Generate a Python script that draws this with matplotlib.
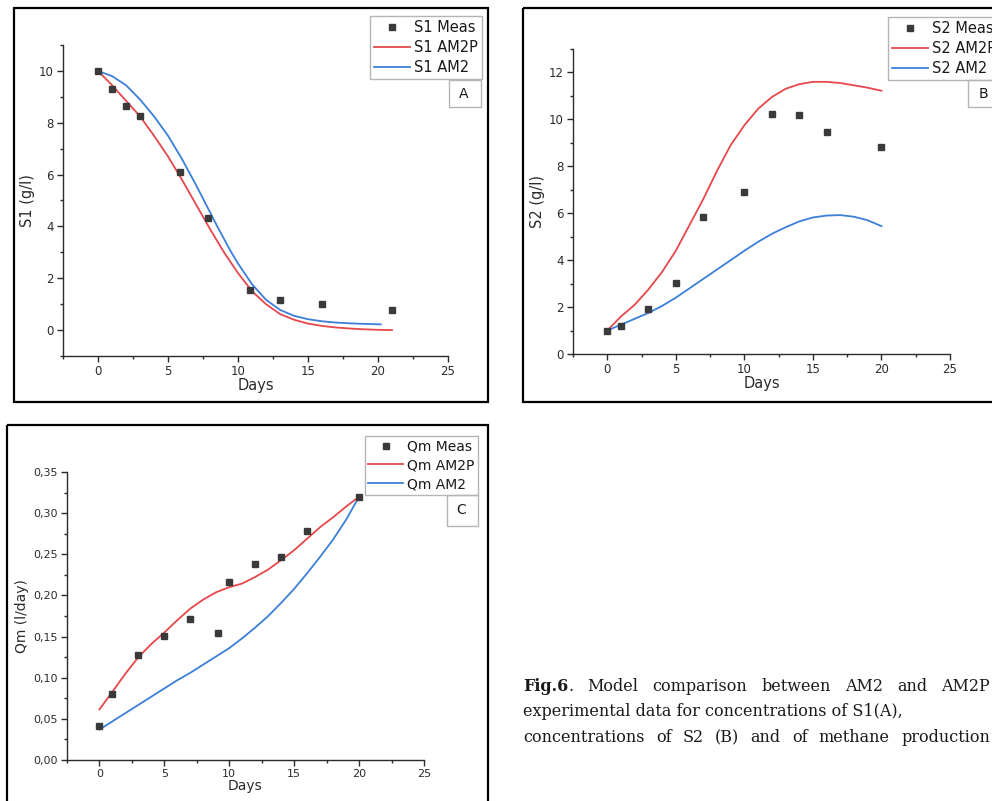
import matplotlib
matplotlib.use("Agg")
import matplotlib.pyplot as plt
from matplotlib.patches import Rectangle
from matplotlib.ticker import MultipleLocator, FuncFormatter

W, H = 992, 801

# Panel A - S1
s1_days = [0, 1, 2, 3, 5.85, 7.85, 10.85, 13, 16, 21]
s1_meas = [10.0, 9.3, 8.65, 8.25, 6.1, 4.33, 1.53, 1.18, 1.0, 0.77]
s1_am2p_days = [0, 1, 2, 3, 4, 5, 6, 7, 8, 9, 10, 11, 12, 13, 14, 15, 16, 17, 18, 19, 20, 21]
s1_am2p = [10.0, 9.45, 8.85, 8.25, 7.5, 6.7, 5.8, 4.85, 3.9, 3.0, 2.2, 1.5, 1.0, 0.62,
           0.4, 0.25, 0.16, 0.1, 0.06, 0.03, 0.01, 0.0]
s1_am2_days = [0, 1, 2, 3, 4, 5, 6, 7, 8, 8.5, 9, 9.5, 10, 11, 12, 13, 14, 15, 16, 17, 18, 19, 20.2]
s1_am2 = [10.0, 9.8, 9.45, 8.9, 8.25, 7.5, 6.6, 5.6, 4.55, 4.02, 3.52, 3.02, 2.57, 1.77,
          1.17, 0.78, 0.55, 0.42, 0.34, 0.29, 0.26, 0.24, 0.22]

# Panel B - S2
s2_days = [0, 1, 3, 5, 7, 10, 12, 14, 16, 20]
s2_meas = [1.0, 1.18, 1.9, 3.03, 5.83, 6.92, 10.22, 10.18, 9.48, 8.84]
s2_fit_days = [0, 1, 2, 3, 4, 5, 6, 7, 8, 9, 10, 11, 12, 13, 14, 15, 16, 17, 18, 19, 20]
s2_am2p = [1.0, 1.6, 2.1, 2.75, 3.5, 4.4, 5.5, 6.6, 7.8, 8.9, 9.75, 10.45, 10.95, 11.3,
           11.5, 11.6, 11.6, 11.55, 11.45, 11.35, 11.22]
s2_am2 = [1.0, 1.25, 1.5, 1.75, 2.05, 2.4, 2.8, 3.2, 3.6, 4.0, 4.4, 4.78, 5.12, 5.4,
          5.65, 5.82, 5.9, 5.92, 5.85, 5.7, 5.45]

# Panel C - Qm
qm_days = [0, 1, 3, 5, 7, 9.1, 10, 12, 14, 16, 20]
qm_meas = [0.041, 0.080, 0.127, 0.151, 0.171, 0.154, 0.216, 0.238, 0.247, 0.278, 0.320]
qm_fit_days = [0, 1, 2, 3, 4, 5, 6, 7, 8, 9, 10, 11, 12, 13, 14, 15, 16, 17, 18, 19, 20]
qm_am2p = [0.0615, 0.083, 0.105, 0.125, 0.141, 0.155, 0.170, 0.184, 0.195, 0.204, 0.210,
           0.2145, 0.2225, 0.2315, 0.243, 0.255, 0.269, 0.283, 0.295, 0.308, 0.320]
qm_am2 = [0.037, 0.047, 0.057, 0.067, 0.077, 0.087, 0.097, 0.106, 0.116, 0.126, 0.136,
          0.148, 0.161, 0.175, 0.191, 0.208, 0.227, 0.247, 0.268, 0.292, 0.320]

caption_head = "Fig.6"
caption_l1 = ". Model comparison between AM2 and AM2P"
caption_l2 = "experimental data for concentrations of S1(A),"
caption_l3 = "concentrations of S2 (B) and of methane production"

RED = "#e5474b"
BLUE = "#3b7fd9"
MARK = "#3a3a3a"
AXC = "#2b2b2b"
TXT = "#1a1a1a"

plt.rcParams["font.family"] = ["DejaVu Sans"]
fig = plt.figure(figsize=(W / 100, H / 100), dpi=100)


def px_axes(left, top, right, bottom):
    return fig.add_axes([left / W, 1 - bottom / H, (right - left) / W, (bottom - top) / H])


def draw_panel(ax, x_m, y_m, x_p, y_p, x_b, y_b, names, ylab, leg_corner, fs_tick, fs_lab):
    ax.plot(x_m, y_m, ls="none", marker="s", ms=4.6, color=MARK, label=names[0], zorder=4)
    ax.plot(x_p, y_p, color=RED, lw=1.3, label=names[1], zorder=3)
    ax.plot(x_b, y_b, color=BLUE, lw=1.3, label=names[2], zorder=3)
    ax.patch.set_alpha(0)
    for s in ["top", "right"]:
        ax.spines[s].set_visible(False)
    for s in ["left", "bottom"]:
        ax.spines[s].set_linewidth(1.0)
        ax.spines[s].set_color(AXC)
    ax.tick_params(which="major", direction="out", length=4, width=1, colors=AXC,
                   labelsize=fs_tick, pad=2.5)
    ax.tick_params(which="minor", direction="out", length=2.5, width=1, colors=AXC)
    ax.set_xlim(-2.5, 25)
    ax.xaxis.set_major_locator(MultipleLocator(5))
    ax.xaxis.set_minor_locator(MultipleLocator(2.5))
    ax.set_xlabel("Days", fontsize=fs_lab, color=AXC, labelpad=0)
    ax.set_ylabel(ylab, fontsize=fs_lab, color=AXC, labelpad=3)
    leg = ax.legend(loc="upper right", bbox_to_anchor=(leg_corner[0] / W, 1 - leg_corner[1] / H),
                    bbox_transform=fig.transFigure, fancybox=False, framealpha=1,
                    edgecolor="#b5b5b5", fontsize=fs_lab, handlelength=2.5, handletextpad=0.3,
                    borderpad=0.25, labelspacing=0.35, borderaxespad=0, numpoints=1)
    leg.get_frame().set_linewidth(1.0)
    for t in leg.get_texts():
        t.set_color(TXT)


# Panel A
axA = px_axes(63, 45, 448, 356)
draw_panel(axA, s1_days, s1_meas, s1_am2p_days, s1_am2p, s1_am2_days, s1_am2,
           ["S1 Meas", "S1 AM2P", "S1 AM2"], "S1 (g/l)", (482, 16), 8.5, 10.5)
axA.set_ylim(-1, 11)
axA.yaxis.set_major_locator(MultipleLocator(2))
axA.yaxis.set_minor_locator(MultipleLocator(1))

# Panel B
axB = px_axes(573, 49, 950, 354)
draw_panel(axB, s2_days, s2_meas, s2_fit_days, s2_am2p, s2_fit_days, s2_am2,
           ["S2 Meas", "S2 AM2P", "S2 AM2"], "S2 (g/l)", (1000, 17), 8.5, 10.5)
axB.set_ylim(0, 13)
axB.yaxis.set_major_locator(MultipleLocator(2))
axB.yaxis.set_minor_locator(MultipleLocator(1))

# Panel C
axC = px_axes(67, 472, 424, 760)
draw_panel(axC, qm_days, qm_meas, qm_fit_days, qm_am2p, qm_fit_days, qm_am2,
           ["Qm Meas", "Qm AM2P", "Qm AM2"], "Qm (l/day)", (478, 436), 8, 10)
axC.set_ylim(0, 0.35)
axC.yaxis.set_major_locator(MultipleLocator(0.05))
axC.yaxis.set_minor_locator(MultipleLocator(0.025))
axC.yaxis.set_major_formatter(FuncFormatter(lambda v, p: f"{v:.2f}".replace(".", ",")))

# overlay in pixel coordinates: panel frames, letter boxes, caption
bg = fig.add_axes([0, 0, 1, 1])
bg.set_xlim(0, W)
bg.set_ylim(H, 0)
bg.axis("off")
bg.patch.set_alpha(0)

for (x0, y0, x1, y1) in [(14, 8, 488, 402), (523, 8, 1000, 402), (7, 425, 488, 812)]:
    bg.add_patch(Rectangle((x0, y0), x1 - x0, y1 - y0, fill=False, ec="black", lw=1.6))

for (x0, y0, x1, y1, letter) in [(449, 80, 481, 107, "A"), (968, 80, 1000, 107, "B"),
                                 (447, 495, 478, 526, "C")]:
    bg.add_patch(Rectangle((x0, y0), x1 - x0, y1 - y0, fill=False, ec="#b5b5b5", lw=1.0))
    bg.text((x0 + x1) / 2 - 1, (y0 + y1) / 2, letter, ha="center", va="center",
            fontsize=10, color=TXT)

# caption: justified first and last line, natural spacing on the middle one
CAP_FS = 11.5
CAP_X0, CAP_X1 = 523, 990
renderer = fig.canvas.get_renderer()


def seg_width(s, weight):
    t = bg.text(0, 0, s, fontsize=CAP_FS, family="DejaVu Serif", weight=weight)
    w = t.get_window_extent(renderer).width
    t.remove()
    return w


def justified_line(y, words):
    widths = [sum(seg_width(s, wt) for s, wt in w) for w in words]
    gap = (CAP_X1 - CAP_X0 - sum(widths)) / (len(words) - 1)
    x = CAP_X0
    for w, ww in zip(words, widths):
        xs = x
        for s, wt in w:
            bg.text(xs, y, s, fontsize=CAP_FS, family="DejaVu Serif", weight=wt,
                    va="baseline", color=TXT)
            xs += seg_width(s, wt)
        x += ww + gap


l1_words = caption_l1.split()
line1 = [[(caption_head, "bold"), (l1_words[0], "normal")]] + [[(w, "normal")] for w in l1_words[1:]]
justified_line(691, line1)
bg.text(CAP_X0, 716.5, caption_l2, fontsize=CAP_FS, family="DejaVu Serif", va="baseline", color=TXT)
justified_line(742, [[(w, "normal")] for w in caption_l3.split()])

fig.savefig("out.png", dpi=100)
